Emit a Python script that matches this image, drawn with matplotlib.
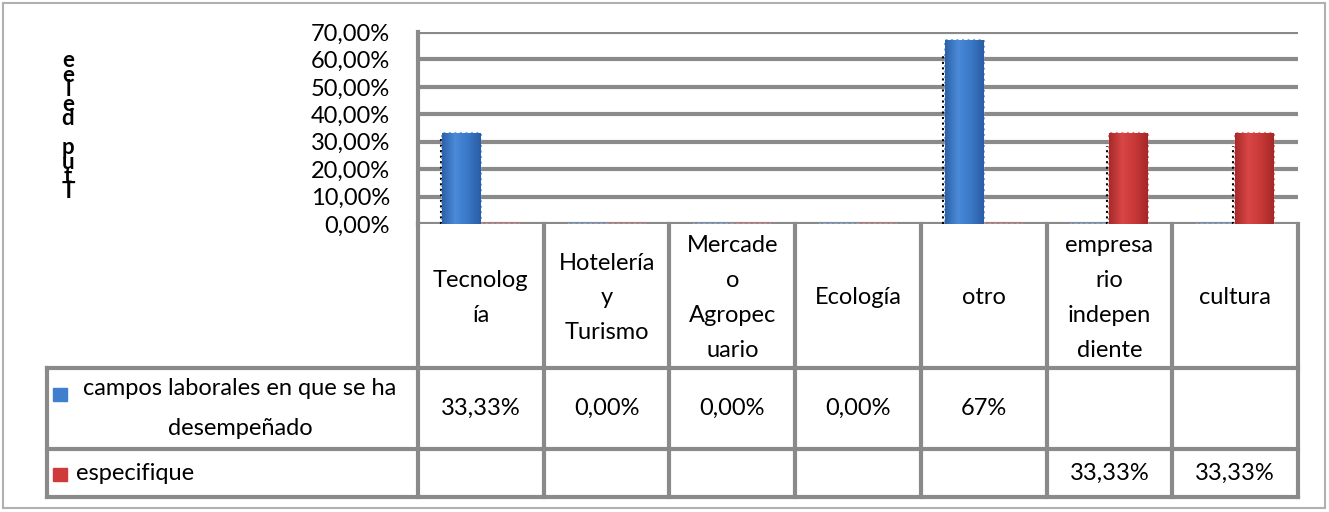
import matplotlib.pyplot as plt
import numpy as np
from matplotlib.colors import LinearSegmentedColormap

plt.rcParams['font.family'] = ['Lato', 'DejaVu Sans']

# categories as wrapped in the table header
categories = ['Tecnolog\nía', 'Hotelería\ny\nTurismo', 'Mercade\no\nAgropec\nuario',
              'Ecología', 'otro', 'empresa\nrio\nindepen\ndiente', 'cultura']

series_names = ['campos laborales en que se ha\ndesempeñado', 'especifique']
campos = [0.3333, 0.0, 0.0, 0.0, 0.67, np.nan, np.nan]
especifique = [np.nan, np.nan, np.nan, np.nan, np.nan, 0.3333, 0.3333]
campos_labels = ['33,33%', '0,00%', '0,00%', '0,00%', '67%', '', '']
especifique_labels = ['', '', '', '', '', '33,33%', '33,33%']

yticks = np.arange(0, 0.71, 0.10)
ytick_labels = ['0,00%', '10,00%', '20,00%', '30,00%', '40,00%', '50,00%', '60,00%', '70,00%']

W, H = 1329, 512
fig = plt.figure(figsize=(W / 100, H / 100), dpi=100)

grid_col = '#8a8a8a'
blue = '#3f7fcd'
red = '#cf3a3a'
blue_cmap = LinearSegmentedColormap.from_list('b', ['#2d62aa', '#4a8ad8', '#3a78c8', '#2a5ea3'])
red_cmap = LinearSegmentedColormap.from_list('r', ['#a82a2a', '#d84646', '#c93838', '#a52828'])
fs = 17

# pixel layout
px_left, px_right = 418, 1298
px_top, px_zero = 32, 224
row1_top, row2_top, table_bottom = 368, 449, 497
legend_left = 47

ax = fig.add_axes([px_left / W, 1 - px_zero / H,
                   (px_right - px_left) / W, (px_zero - px_top) / H])
n = len(categories)
x = np.arange(n)
bw = 0.31

for t in yticks:
    ax.axhline(t, color=grid_col, lw=3, zorder=1)

bars_c = ax.bar(x - bw / 2, np.nan_to_num(campos), bw, color=blue, edgecolor='#7aaae6',
                lw=1.5, linestyle=':', zorder=3)
bars_e = ax.bar(x + bw / 2, np.nan_to_num(especifique), bw, color=red, edgecolor='#e88080',
                lw=1.5, linestyle=':', zorder=3)

# horizontal shading across each bar
grad = np.linspace(0, 1, 64).reshape(1, -1)
for bars, cmap in [(bars_c, blue_cmap), (bars_e, red_cmap)]:
    for b in bars:
        if b.get_height() <= 0:
            continue
        x0, w, h = b.get_x(), b.get_width(), b.get_height()
        im = ax.imshow(grad, cmap=cmap, aspect='auto', extent=(x0, x0 + w, 0, h),
                       zorder=3.5, interpolation='bilinear')
        im.set_clip_path(b)
ax.set_xlim(-0.5, n - 0.5)
ax.set_ylim(0, 0.70)

# dotted shadow on the left side of each bar
for xi, v in zip(x - bw / 2, campos):
    if v > 0:
        ax.vlines(xi - bw / 2 - 0.01, 0, v * 0.93, colors='black', linestyles=':', lw=1.5, zorder=2)
for xi, v in zip(x + bw / 2, especifique):
    if v > 0:
        ax.vlines(xi - bw / 2 - 0.02, 0, v * 0.85, colors='black', linestyles=':', lw=1.5, zorder=2)

ax.set_yticks(yticks)
ax.set_yticklabels(ytick_labels, fontsize=fs)
ax.tick_params(axis='y', length=0, pad=20)
ax.set_xticks([])
for s in ['top', 'right', 'bottom']:
    ax.spines[s].set_visible(False)
ax.spines['left'].set_color(grid_col)
ax.spines['left'].set_linewidth(3)

# overlay in pixel coordinates for the data table and frame
ov = fig.add_axes([0, 0, 1, 1], facecolor='none')
ov.set_xlim(0, W)
ov.set_ylim(H, 0)
ov.axis('off')

ov.add_patch(plt.Rectangle((3, 3), W - 7, H - 7, fill=False, ec='#b0b0b0', lw=1.5))

col_w = (px_right - px_left) / n
edges = px_left + col_w * np.arange(n + 1)
centers = (edges[:-1] + edges[1:]) / 2

lc = dict(color=grid_col, lw=3, capstyle='projecting')
ov.vlines(edges, px_zero, table_bottom, **lc)
ov.vlines(legend_left, row1_top, table_bottom, **lc)
ov.hlines([row1_top, row2_top, table_bottom], legend_left, px_right, **lc)

head_y = (px_zero + row1_top) / 2
r1_y = (row1_top + row2_top) / 2
r2_y = (row2_top + table_bottom) / 2
for cx, cat, l1, l2 in zip(centers, categories, campos_labels, especifique_labels):
    ov.text(cx, head_y + 2, cat, ha='center', va='center', fontsize=fs, linespacing=1.82)
    ov.text(cx, r1_y, l1, ha='center', va='center', fontsize=fs)
    ov.text(cx, r2_y, l2, ha='center', va='center', fontsize=fs)

# legend keys inside the row headers
ov.add_patch(plt.Rectangle((53, 388), 14, 13, color=blue))
ov.add_patch(plt.Rectangle((53, 468), 14, 13, color=red))
ov.text(240, r1_y, series_names[0], ha='center', va='center', fontsize=fs,
        multialignment='center', linespacing=2.1)
ov.text(76, r2_y, series_names[1], ha='left', va='center', fontsize=fs)

# y axis title, stacked and overlapping
ov.text(68, 126, 'e\ne\nl\ne\nd\n\np\nu\nt\nT', ha='center', va='center',
        fontsize=16, linespacing=0.62, fontweight='bold')

fig.savefig('out.png', dpi=100)
